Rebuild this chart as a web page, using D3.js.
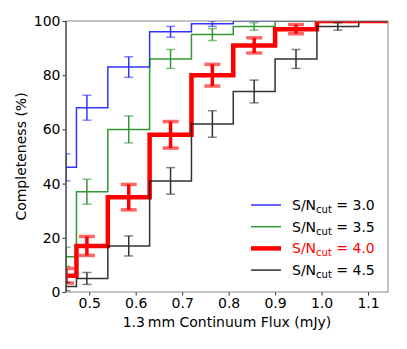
<!DOCTYPE html>
<html>
<head>
<meta charset="utf-8">
<script src="https://cdn.jsdelivr.net/npm/d3@7"></script>
<style>
  body { margin: 0; background: #fff; }
  svg { font-family: "DejaVu Sans", sans-serif; }
</style>
</head>
<body>
<script>
// flux bin centres (mJy); first point sits on the left axis edge
const flux = [0.45, 0.495, 0.585, 0.675, 0.765, 0.855, 0.945, 1.035, 1.125, 1.215];

// completeness (%) and 1-sigma errors for each S/N cut
const sn30 = [46, 68, 83, 96, 99, 100, 100, 100, 100, 100];
const sn30Err = [5, 4.6, 3.8, 2, 1, 0, 0, 0, 0, 0];
const sn35 = [13, 37, 60, 86, 95, 98, 100, 100, 100, 100];
const sn35Err = [3.5, 4.6, 5, 3.5, 2.2, 1.4, 0, 0, 0, 0];
const sn40 = [6, 17, 35, 58, 80, 91, 97, 100, 100, 100];
const sn40Err = [2.7, 3.5, 4.7, 4.9, 4, 2.8, 1.7, 0, 0, 0];
const sn45 = [2, 5, 17, 41, 62, 74, 86, 98, 100, 100];
const sn45Err = [1.5, 2.2, 3.7, 4.9, 4.9, 4.2, 3.5, 1.4, 0, 0];

const cuts = ["3.0", "3.5", "4.0", "4.5"];
const xTicks = [0.5, 0.6, 0.7, 0.8, 0.9, 1.0, 1.1];
const yTicks = [0, 20, 40, 60, 80, 100];

function main(){
const margin = {top: 21, right: 19, bottom: 57, left: 66},
    width = 407 - margin.left - margin.right,
    height = 349 - margin.top - margin.bottom;

const svg = d3.select("body")
  .append("svg")
    .attr("width", width + margin.left + margin.right)
    .attr("height", height + margin.top + margin.bottom)
  .append("g")
    .attr("transform", `translate(${margin.left},${margin.top})`);

const x = d3.scaleLinear().domain([0.45, 1.143]).range([0, width]);
const y = d3.scaleLinear().domain([0, 100]).range([height, 0]);

svg.append("defs").append("clipPath").attr("id", "clip")
  .append("rect").attr("width", width).attr("height", height);

// axes
const xAxis = svg.append("g")
    .attr("transform", `translate(0,${height})`)
    .call(d3.axisBottom(x).tickValues(xTicks).tickFormat(d3.format(".1f")).tickSize(3.5).tickPadding(2.5));
const yAxis = svg.append("g")
    .call(d3.axisLeft(y).tickValues(yTicks).tickSize(3.5).tickPadding(2));
[xAxis, yAxis].forEach(a => {
  a.select(".domain").remove();
  a.selectAll("text").attr("font-size", 14).attr("fill", "#000").attr("font-family", "DejaVu Sans");
  a.selectAll("line").attr("stroke", "#000").attr("stroke-width", 0.8);
});

const series = [
  {vals: sn30, err: sn30Err, color: "#0000ff", w: 1.5, op: 0.8, cap: 4.5, ew: 1.5},
  {vals: sn35, err: sn35Err, color: "#008000", w: 1.5, op: 0.8, cap: 4.5, ew: 1.5},
  {vals: sn40, err: sn40Err, color: "#ff0000", w: 4.5, op: 1, cap: 8, ew: 3.5},
  {vals: sn45, err: sn45Err, color: "#000000", w: 1.5, op: 0.8, cap: 4.5, ew: 1.5}
];

const plot = svg.append("g").attr("clip-path", "url(#clip)");
const line = d3.line().x((d, i) => x(flux[i])).y(d => y(d)).curve(d3.curveStep);

series.forEach(s => {
  const g = plot.append("g").attr("opacity", s.op);
  g.append("path")
    .datum(s.vals)
    .attr("fill", "none")
    .attr("stroke", s.color)
    .attr("stroke-width", s.w)
    .attr("d", line);
  const eb = s.vals.map((v, i) => ({x: flux[i], v: v, e: s.err[i]})).filter(d => d.e > 0);
  g.selectAll(".eb").data(eb).join("line")
    .attr("x1", d => x(d.x)).attr("x2", d => x(d.x))
    .attr("y1", d => y(d.v - d.e)).attr("y2", d => y(d.v + d.e))
    .attr("stroke", s.color).attr("stroke-width", s.ew);
  [-1, 1].forEach(sg => {
    g.selectAll(".cap" + sg).data(eb).join("line")
      .attr("x1", d => x(d.x) - s.cap).attr("x2", d => x(d.x) + s.cap)
      .attr("y1", d => y(d.v + sg * d.e)).attr("y2", d => y(d.v + sg * d.e))
      .attr("stroke", s.color).attr("stroke-width", s.ew)
      .attr("stroke-opacity", 0.6);
  });
});

// frame
svg.append("rect").attr("width", width).attr("height", height)
  .attr("fill", "none").attr("stroke", "#888").attr("stroke-width", 1);
svg.append("line").attr("x1", 0).attr("x2", 0).attr("y1", 0).attr("y2", height)
  .attr("stroke", "#222").attr("stroke-width", 1);

// labels
svg.append("text")
  .attr("x", width / 2).attr("y", height + 35)
  .attr("text-anchor", "middle").attr("font-size", 14)
  .text("1.3\u2009mm Continuum Flux (mJy)");
svg.append("text")
  .attr("transform", "rotate(-90)")
  .attr("x", -height / 2).attr("y", -40)
  .attr("text-anchor", "middle").attr("font-size", 14)
  .text("Completeness (%)");

// legend
const leg = svg.append("g").attr("transform", `translate(${251 - margin.left},${205 - margin.top})`);
series.forEach((s, i) => {
  const row = leg.append("g").attr("transform", `translate(0,${i * 21.7})`);
  row.append("line").attr("x1", 0).attr("x2", 30)
    .attr("stroke", s.color).attr("stroke-width", s.w).attr("opacity", s.op);
  const t = row.append("text").attr("x", 41).attr("y", 5)
    .attr("font-size", 14).attr("fill", i === 2 ? "#ff0000" : "#000");
  t.append("tspan").text("S/N");
  t.append("tspan").attr("font-size", 10).attr("dy", 3).text("cut");
  t.append("tspan").attr("dy", -3).text(" = " + cuts[i]);
});
}

main();
</script>
</body>
</html>
